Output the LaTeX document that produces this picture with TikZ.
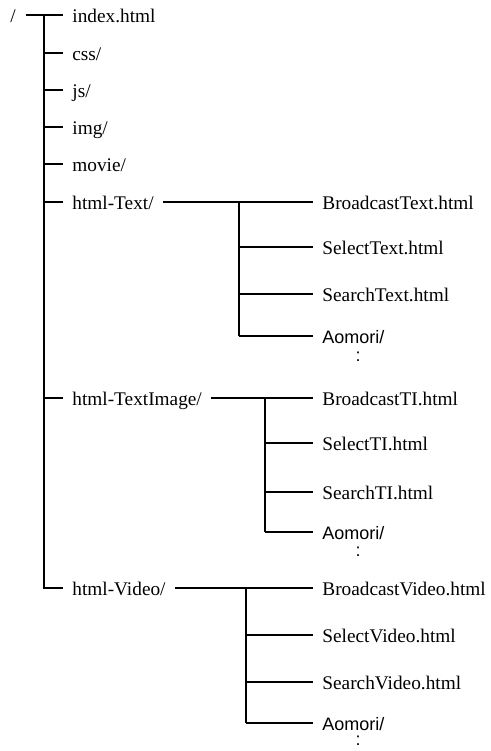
\documentclass[tikz,border=0pt]{standalone}
\usepackage{fontspec}
\setmainfont{Liberation Serif}
\newfontfamily\aomorifont{Liberation Sans}
\tikzset{
  item/.style={anchor=base west, inner xsep=4.5pt, inner ysep=0pt, yshift=-3.5pt, font=\fontsize{9.65}{11}\selectfont},
  sansitem/.style={item, font=\aomorifont\fontsize{9}{11}\selectfont},
  dots/.style={font=\aomorifont\fontsize{9}{11}\selectfont, inner sep=0pt},
  trunk/.style={line width=1.3pt},
  branch/.style={line width=1.2pt},
  twig/.style={line width=0.9pt},
}
\begin{document}
\begin{tikzpicture}[x=0.5pt, y=-0.5pt]
    \useasboundingbox (0,0) rectangle (491,751);

    % top level
    \node[item, inner xsep=0pt] (root) at (10,15) {/};
    \coordinate (r0) at (44,15);
    \coordinate (r7) at (44,588);

    \node[item] (index) at (63,15) {index.html};
    \node[item] (css) at (63,53) {css/};
    \node[item] (js) at (63,90) {js/};
    \node[item] (img) at (63,127) {img/};
    \node[item] (movie) at (63,164) {movie/};
    \node[item] (htext) at (63,202) {html-Text/};
    \node[item] (hti) at (63,398) {html-TextImage/};
    \node[item] (hvideo) at (63,588) {html-Video/};

    \draw[trunk] ([xshift=5pt]root.east |- r0) -- (r0) -- (r7) -- (r7 -| hvideo.west);
    \draw[trunk] (r0) -- (r0 -| index.west);
    \draw[trunk] (44,53) -- (css.west |- 0,53);
    \draw[trunk] (44,90) -- (js.west |- 0,90);
    \draw[trunk] (44,127) -- (img.west |- 0,127);
    \draw[trunk] (44,164) -- (movie.west |- 0,164);
    \draw[trunk] (44,202) -- (htext.west |- 0,202);
    \draw[trunk] (44,398) -- (hti.west |- 0,398);

    % html-Text/
    \coordinate (t0) at (239,202);
    \node[item] (bt) at (313,202) {BroadcastText.html};
    \node[item] (st) at (313,247) {SelectText.html};
    \node[item] (set) at (313,294) {SearchText.html};
    \node[sansitem] (at) at (313,336) {Aomori/};
    \node[dots] (dt) at (358,357) {:};
    \draw[trunk] (htext.east |- t0) -- (t0);
    \draw[twig] (t0) -- (bt.west |- t0);
    \draw[branch] (t0) -- (239,336);
    \draw[twig] (239,247) -- (st.west |- 0,247);
    \draw[twig] (239,294) -- (set.west |- 0,294);
    \draw[twig] (239,336) -- (at.west |- 0,336);

    % html-TextImage/
    \coordinate (i0) at (265,398);
    \node[item] (bi) at (313,398) {BroadcastTI.html};
    \node[item] (si) at (313,443) {SelectTI.html};
    \node[item] (sei) at (313,492) {SearchTI.html};
    \node[sansitem] (ai) at (313,532) {Aomori/};
    \node[dots] (di) at (358,552) {:};
    \draw[trunk] (hti.east |- i0) -- (i0);
    \draw[twig] (i0) -- (bi.west |- i0);
    \draw[branch] (i0) -- (265,532);
    \draw[twig] (265,443) -- (si.west |- 0,443);
    \draw[twig] (265,492) -- (sei.west |- 0,492);
    \draw[twig] (265,532) -- (ai.west |- 0,532);

    % html-Video/
    \coordinate (v0) at (246,588);
    \node[item] (bv) at (313,588) {BroadcastVideo.html};
    \node[item] (sv) at (313,635) {SelectVideo.html};
    \node[item] (sev) at (313,682) {SearchVideo.html};
    \node[sansitem] (av) at (313,723) {Aomori/};
    \node[dots] (dv) at (358,741) {:};
    \draw[trunk] (hvideo.east |- v0) -- (v0);
    \draw[twig] (v0) -- (bv.west |- v0);
    \draw[branch] (v0) -- (246,723);
    \draw[twig] (246,635) -- (sv.west |- 0,635);
    \draw[twig] (246,682) -- (sev.west |- 0,682);
    \draw[twig] (246,723) -- (av.west |- 0,723);
\end{tikzpicture}
\end{document}
